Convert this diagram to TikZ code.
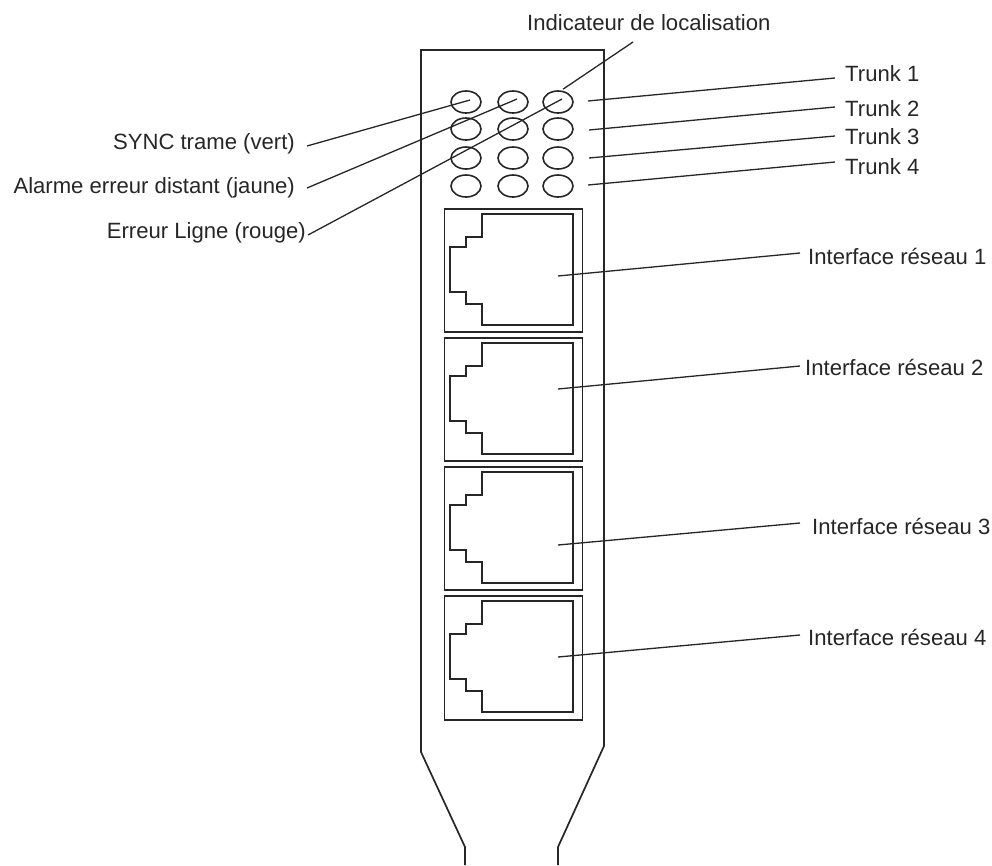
\documentclass[tikz,border=0pt]{standalone}
\usetikzlibrary{shapes.geometric}
\usepackage{fontspec}
\setmainfont{Liberation Sans}
\begin{document}
\begin{tikzpicture}[x=1pt,y=-1pt,
  ink/.style={draw=black!85,line width=1.7pt,line join=miter},
  thinink/.style={draw=black!85,line width=1.3pt},
  led/.style={ellipse,draw=black!85,line width=1.6pt,minimum width=30pt,minimum height=22pt,inner sep=0pt},
  lbl/.style={font=\fontsize{22.1}{25}\selectfont,text=black!85,inner sep=0pt}]
\useasboundingbox (0,0) rectangle (992,865);
\draw[ink] (465,865) -- (465,847) -- (421,752) -- (421,50) -- (604,50) -- (604,746) -- (558,847) -- (558,865);
\foreach \r/\yy in {1/102,2/129,3/158,4/186}
  \foreach \c/\xx in {1/466,2/513,3/558}
    \node[led] (l\r\c) at (\xx,\yy) {};
\foreach \i/\t/\h in {1/208/123,2/337/123,3/466/123,4/595/124}{
  \node[draw=black!85,line width=1.7pt,minimum width=138pt,minimum height=\h pt,inner sep=0pt,anchor=north west] (box\i) at (443.5,\t) {};
  \draw[ink] (482,\t+6) -- (573,\t+6) -- (573,\t+117) -- (482,\t+117) -- (482,\t+96) -- (466,\t+96) -- (466,\t+84) -- (450,\t+84) -- (450,\t+39) -- (466,\t+39) -- (466,\t+29) -- (482,\t+29) -- cycle;
}
\node[lbl,anchor=west] (ind) at (527,23) {Indicateur de localisation};
\node[lbl,anchor=west] (t1) at (845,74) {Trunk 1};
\node[lbl,anchor=west] (t2) at (845,109) {Trunk 2};
\node[lbl,anchor=west] (t3) at (845,137) {Trunk 3};
\node[lbl,anchor=west] (t4) at (845,167) {Trunk 4};
\node[lbl,anchor=east] (sync) at (295,144) {SYNC trame (vert)};
\node[lbl,anchor=east] (alarm) at (295,188) {Alarme erreur distant (jaune)};
\node[lbl,anchor=east] (err) at (306,233) {Erreur Ligne (rouge)};
\node[lbl,anchor=west] (n1) at (808,256) {Interface réseau 1};
\node[lbl,anchor=west] (n2) at (805,367) {Interface réseau 2};
\node[lbl,anchor=west] (n3) at (812,526) {Interface réseau 3};
\node[lbl,anchor=west] (n4) at (808,637) {Interface réseau 4};
\coordinate (s1) at (307,146); \coordinate (s2) at (307,188); \coordinate (s3) at (308,235);
\coordinate (e4) at (633,42);
\draw[thinink] (s1) -- ([shift={(4,-2)}]l11.center);
\draw[thinink] (s2) -- ([shift={(4,-3)}]l12.center);
\draw[thinink] (s3) -- ([shift={(4,-3)}]l13.center);
\draw[thinink] (e4) -- ([shift={(5,-1)}]l13.north);
\coordinate (b1) at (588,101); \coordinate (b2) at (589,130); \coordinate (b3) at (589,158); \coordinate (b4) at (588,185);
\coordinate (d1) at (835,78); \coordinate (d2) at (835,107); \coordinate (d3) at (835,136); \coordinate (d4) at (835,162);
\draw[thinink] (b1) -- (d1);
\draw[thinink] (b2) -- (d2);
\draw[thinink] (b3) -- (d3);
\draw[thinink] (b4) -- (d4);
\coordinate (c1) at (558,276); \coordinate (c2) at (558,389); \coordinate (c3) at (558,545); \coordinate (c4) at (558,657);
\coordinate (f1) at (800,253); \coordinate (f2) at (800,366); \coordinate (f3) at (800,523); \coordinate (f4) at (800,635);
\draw[thinink] (c1) -- (f1);
\draw[thinink] (c2) -- (f2);
\draw[thinink] (c3) -- (f3);
\draw[thinink] (c4) -- (f4);
\end{tikzpicture}
\end{document}
